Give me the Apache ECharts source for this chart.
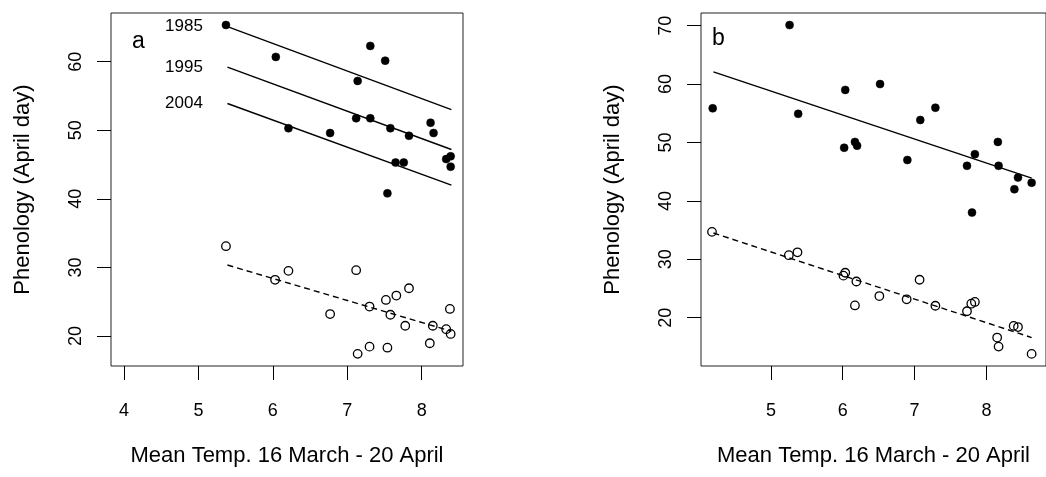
<!DOCTYPE html>
<html><head><meta charset="utf-8">
<script src="https://cdn.jsdelivr.net/npm/echarts@6/dist/echarts.min.js"></script>
<style>html,body{margin:0;padding:0;background:#fff}#c{width:1046px;height:477px}</style>
</head><body><div id="c"></div>
<script>
// ---- data ----
const xTicksA = [4, 5, 6, 7, 8];
const yTicksA = [20, 30, 40, 50, 60];
const xTicksB = [5, 6, 7, 8];
const yTicksB = [20, 30, 40, 50, 60, 70];
const xTitle = 'Mean Temp. 16 March - 20 April';
const yTitle = 'Phenology (April day)';
const panelLetters = ['a', 'b'];

// panel a: filled = late stage, open = early stage
const filledA = [[5.37,65.35],[6.04,60.7],[7.31,62.3],[7.14,57.2],[7.12,51.75],[7.31,51.75],[6.21,50.3],[6.77,49.6],[7.51,60.15],[7.58,50.3],[7.83,49.2],[7.65,45.3],[7.76,45.3],[7.54,40.8],[8.12,51.1],[8.16,49.6],[8.33,45.8],[8.39,46.2],[8.39,44.7]];
const openA = [[5.37,33.1],[6.03,28.2],[6.21,29.5],[6.77,23.2],[7.12,29.6],[7.14,17.4],[7.30,24.3],[7.30,18.45],[7.52,25.26],[7.66,25.9],[7.83,26.97],[7.58,23.1],[7.78,21.5],[7.54,18.3],[8.15,21.5],[8.11,18.95],[8.38,23.95],[8.33,21.0],[8.39,20.3]];
const yearLabels = ['1985', '1995', '2004'];
const yearLinesA = [
  [[5.39,65.1],[8.4,53.0]],
  [[5.39,59.2],[8.4,47.2]],
  [[5.39,53.9],[8.4,42.0]]
];
const dashLineA = [[5.39,30.35],[8.4,20.7]];

// panel b
const filledB = [[4.19,55.85],[5.26,70.1],[5.38,54.9],[6.035,59.0],[6.02,49.1],[6.17,50.1],[6.20,49.45],[6.52,60.0],[6.90,47.0],[7.08,53.85],[7.29,55.96],[7.73,46.0],[7.84,48.0],[8.16,50.1],[8.17,46.0],[8.44,44.0],[8.39,42.0],[8.63,43.1],[7.80,38.0]];
const openB = [[4.18,34.7],[5.25,30.7],[5.37,31.2],[6.01,27.2],[6.035,27.7],[6.19,26.2],[6.17,22.1],[6.51,23.7],[6.89,23.15],[7.07,26.5],[7.29,22.05],[7.73,21.1],[7.79,22.4],[7.84,22.7],[8.15,16.6],[8.17,15.05],[8.38,18.6],[8.44,18.4],[8.63,13.8]];
const solidLineB = [[4.2,62.1],[8.63,43.9]];
const dashLineB = [[4.2,34.5],[8.63,16.6]];

// ---- chart ----
const FONT = "'Liberation Sans', Arial, sans-serif";
const chart = echarts.init(document.getElementById('c'), null, {renderer: 'canvas'});

function xAx(gi, min, max, ticks) {
  return {
    gridIndex: gi, type: 'value', min: min, max: max,
    name: xTitle, nameLocation: 'middle', nameGap: 79,
    nameTextStyle: {fontFamily: FONT, fontSize: 22, color: '#000'},
    axisLine: {show: false},
    axisTick: {show: true, inside: false, length: 14, customValues: ticks, lineStyle: {color: '#000', width: 1}},
    axisLabel: {show: true, customValues: ticks, margin: 36, fontFamily: FONT, fontSize: 18, color: '#000'},
    splitLine: {show: false}
  };
}
function yAx(gi, min, max, ticks) {
  return {
    gridIndex: gi, type: 'value', min: min, max: max,
    name: yTitle, nameLocation: 'middle', nameGap: 77, nameRotate: 90,
    nameTextStyle: {fontFamily: FONT, fontSize: 22, color: '#000'},
    axisLine: {show: false},
    axisTick: {show: true, inside: false, length: 14, customValues: ticks, lineStyle: {color: '#000', width: 1}},
    axisLabel: {show: true, customValues: ticks, rotate: 90, margin: 26, fontFamily: FONT, fontSize: 18, color: '#000'},
    splitLine: {show: false}
  };
}
function pts(data, gi, filled) {
  return {
    type: 'scatter', xAxisIndex: gi, yAxisIndex: gi, data: data,
    symbol: 'circle', symbolSize: filled ? 8 : 8.5, silent: true,
    itemStyle: filled ? {color: '#000', borderColor: '#000', borderWidth: 0.5, opacity: 1}
                      : {color: 'rgba(0,0,0,0)', borderColor: '#000', borderWidth: 1.3, opacity: 1},
    z: 3
  };
}
function line(data, gi, dashed) {
  return {
    type: 'line', xAxisIndex: gi, yAxisIndex: gi, data: data, silent: true,
    symbol: 'none', showSymbol: false,
    lineStyle: {color: '#000', width: 1.4, type: dashed ? [6, 4] : 'solid'},
    z: 2
  };
}

const series = [];
series.push(pts(filledA, 0, true));
series.push(pts(openA, 0, false));
yearLinesA.forEach(l => series.push(line(l, 0, false)));
// year labels placed at the start of each year line
series.push({
  type: 'scatter', xAxisIndex: 0, yAxisIndex: 0, silent: true,
  data: yearLinesA.map((l, i) => ({value: l[0], name: yearLabels[i]})),
  symbol: 'circle', symbolSize: 1,
  itemStyle: {color: 'rgba(0,0,0,0)', opacity: 1},
  label: {show: true, position: 'left', distance: 24, formatter: p => p.name,
    fontFamily: FONT, fontSize: 17, color: '#000'},
  z: 4
});
series.push(line(dashLineA, 0, true));
series.push(pts(filledB, 1, true));
series.push(pts(openB, 1, false));
series.push(line(solidLineB, 1, false));
series.push(line(dashLineB, 1, true));

chart.setOption({
  animation: false,
  backgroundColor: '#fff',
  textStyle: {fontFamily: FONT},
  grid: [
    {left: 111, top: 13, width: 352, height: 353, show: true, borderColor: '#222', borderWidth: 1, backgroundColor: 'transparent'},
    {left: 701, top: 13, width: 354, height: 353, show: true, borderColor: '#222', borderWidth: 1, backgroundColor: 'transparent'}
  ],
  xAxis: [xAx(0, 3.825, 8.556, xTicksA), xAx(1, 4.027, 8.83, xTicksB)],
  yAxis: [yAx(0, 15.63, 67.1, yTicksA), yAx(1, 11.73, 72.17, yTicksB)],
  graphic: [
    {type: 'text', left: 132, top: 30, style: {text: panelLetters[0], font: '23px ' + FONT, fill: '#000'}},
    {type: 'text', left: 712, top: 27, style: {text: panelLetters[1], font: '23px ' + FONT, fill: '#000'}}
  ],
  series: series
});
</script>
</body></html>
